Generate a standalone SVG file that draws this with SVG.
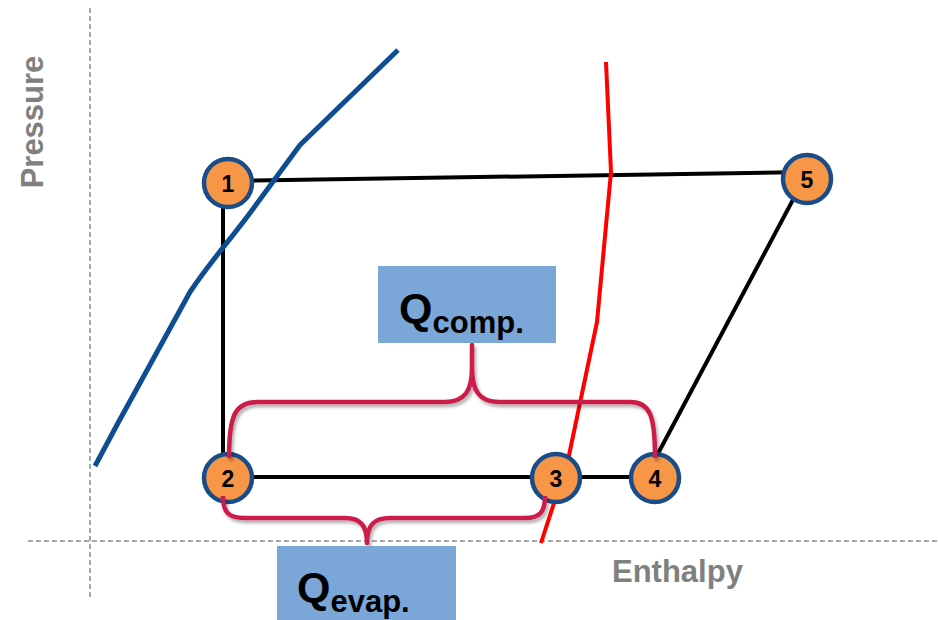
<svg xmlns="http://www.w3.org/2000/svg" width="938" height="620" viewBox="0 0 938 620">
<defs>
<style>
.axis{stroke:#8a8a8a;stroke-width:1.5;stroke-dasharray:5,3;fill:none}
.axlbl{font-family:"Liberation Sans",Arial,sans-serif;font-weight:bold;font-size:31px;fill:#808080}
.cyc{stroke:#000;stroke-width:4;fill:none}
.brace{stroke:#CC1A4A;stroke-width:4.5;fill:none;stroke-linejoin:round}
.node circle{fill:#F79646;stroke:#1A4C8A;stroke-width:4.5}
.node text{font-family:"Liberation Sans",Arial,sans-serif;font-weight:bold;font-size:23px;fill:#000;text-anchor:middle}
.qbox{fill:#7BA6D8}
.q{font-family:"Liberation Sans",Arial,sans-serif;font-weight:bold;fill:#000}
</style>
<filter id="sh" x="-10%" y="-10%" width="120%" height="130%">
<feDropShadow dx="2" dy="3" stdDeviation="1.5" flood-color="#000" flood-opacity="0.3"/>
</filter>
</defs>
<rect width="938" height="620" fill="#fff"/>
<g id="axes">
<line class="axis" x1="90" y1="8" x2="90" y2="597"/>
<line class="axis" x1="28" y1="541" x2="938" y2="541"/>
<text class="axlbl" transform="translate(43,122) rotate(-90)" text-anchor="middle">Pressure</text>
<text class="axlbl" x="612" y="582">Enthalpy</text>
</g>
<g id="connectors">
<line class="cyc" x1="228" y1="181" x2="807" y2="172"/>
<line class="cyc" x1="223" y1="183" x2="223" y2="478"/>
<line class="cyc" x1="228" y1="477" x2="655" y2="477"/>
<line class="cyc" x1="645" y1="478" x2="804" y2="179"/>
<path d="M95,466 L118,423 L190,292 C210,262 230,240 250,213 L300,145 L398,50" stroke="#0E4D92" stroke-width="5" fill="none" stroke-linejoin="round"/>
<path d="M606,62 L611,172 L597,322 L568,460 L541,543" stroke="#FF0000" stroke-width="4" fill="none" stroke-linejoin="round"/>
</g>
<g id="node1" class="node"><circle cx="228" cy="183" r="24"/><text x="228" y="192">1</text></g>
<g id="node2" class="node"><circle cx="228" cy="478" r="24"/><text x="228" y="487">2</text></g>
<g id="node3" class="node"><circle cx="556" cy="478" r="24"/><text x="556" y="487">3</text></g>
<g id="node4" class="node"><circle cx="655" cy="478" r="24"/><text x="655" y="487">4</text></g>
<g id="node5" class="node"><circle cx="807" cy="179" r="24"/><text x="807" y="188">5</text></g>
<g id="braces" filter="url(#sh)">
<path class="brace" d="M229,458 C229,415 235,402 258,402 L445,402 C465,402 472,390 472,368 L472,345 L472,368 C472,390 479,402 499,402 L630,402 C650,402 655,415 655,458"/>
<path class="brace" d="M223,496 C223,512 228,518 245,518 L345,518 C360,518 367,525 367,543 C367,525 374,518 390,518 L525,518 C540,518 545,512 545,496"/>
</g>
<g id="qcomp">
<rect class="qbox" x="378" y="266" width="178" height="77"/>
<text class="q" x="399" y="323" font-size="43">Q<tspan font-size="31" dy="10">comp.</tspan></text>
</g>
<g id="qevap">
<rect class="qbox" x="277" y="546" width="179" height="74"/>
<text class="q" x="297" y="602" font-size="43">Q<tspan font-size="31" dy="10">evap.</tspan></text>
</g>
</svg>
